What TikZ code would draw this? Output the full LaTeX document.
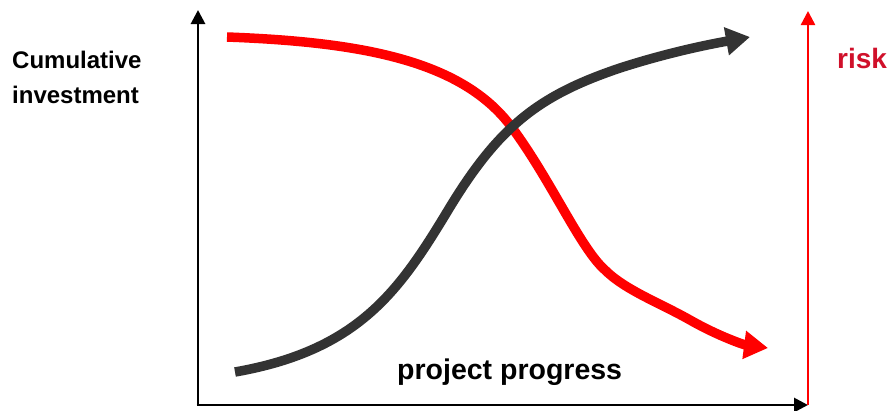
\documentclass[tikz,border=0pt]{standalone}
\usepackage{fontspec}
\setmainfont{Liberation Sans}
\usetikzlibrary{arrows.meta}
\definecolor{curvegray}{HTML}{333333}
\definecolor{riskred}{HTML}{D0102A}
\tikzset{
  axisline/.style={line width=2.8pt,-{Triangle[length=14pt,width=14pt]}},
  bigcurve/.style={line width=9.5pt,line cap=butt,-{Triangle[length=24pt,width=27pt]}},
  lbl/.style={inner sep=0pt,anchor=base west,font=\bfseries}
}
\begin{document}
\begin{tikzpicture}[x=1pt,y=-1pt]
\useasboundingbox[fill=white] (0,0) rectangle (891,410);
\coordinate (origin) at (198,405);
\coordinate (ytop) at (198,10);
\coordinate (xend) at (808,405);
\coordinate (rbase) at (808,405);
\coordinate (rtop) at (808,11);
\draw[axisline,black] (origin) -- (ytop);
\draw[axisline,black] ([xshift=-1.4pt]origin) -- (xend);
\draw[axisline,red,line width=2.4pt] (rbase) -- (rtop);
\draw[bigcurve,red] (227,37) .. controls (360,42) and (460,60) .. (510,125)
  .. controls (550,178) and (580,248) .. (605,270)
  .. controls (625,290) and (660,303) .. (690,320)
  .. controls (720,337) and (745,345) .. (768,348);
\draw[bigcurve,curvegray] (235,372) .. controls (360,350) and (400,290) .. (450,207)
  .. controls (500,125) and (540,95) .. (620,68)
  .. controls (662,54.5) and (700,46) .. (750,37);
\node[lbl,font=\bfseries\fontsize{24}{24}\selectfont] (cum) at (12,68) {Cumulative};
\node[lbl,font=\bfseries\fontsize{24}{24}\selectfont] (inv) at (12,103) {investment};
\node[lbl,font=\bfseries\fontsize{28}{28}\selectfont,text=riskred] (risk) at (837,68) {risk};
\node[lbl,font=\bfseries\fontsize{28.5}{28.5}\selectfont] (prog) at (397,379) {project progress};
\end{tikzpicture}
\end{document}
